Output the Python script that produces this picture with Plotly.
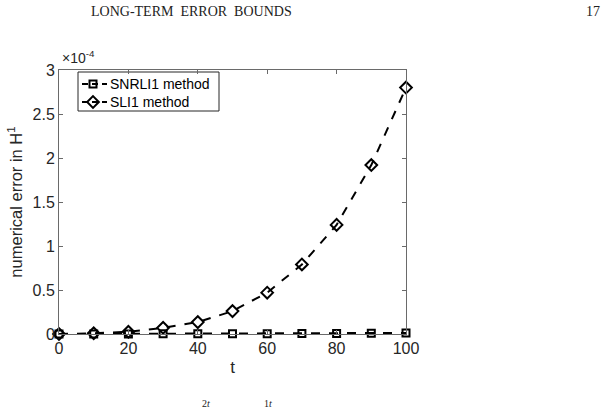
import plotly.graph_objects as go

t = [0, 10, 20, 30, 40, 50, 60, 70, 80, 90, 100]
snrli1 = [0.0, 0.0005, 0.001, 0.0015, 0.002, 0.003, 0.004, 0.005, 0.007, 0.009, 0.012]
sli1 = [0.0, 0.008, 0.025, 0.07, 0.135, 0.26, 0.47, 0.79, 1.24, 1.92, 2.80]
yticks = [0, 0.5, 1, 1.5, 2, 2.5, 3]
xticks = [0, 20, 40, 60, 80, 100]
series_names = ["SNRLI1 method", "SLI1 method"]

W, H = 614, 408
L, R, T, B = 59, 406, 70, 334

def px(xp):
    return (xp - L) / (R - L)

def py(yp):
    return (B - yp) / (B - T)

AX = "#6a6a6a"
TXT = "#262626"
SANS = "Liberation Sans, Arial"
SERIF = "Liberation Serif, DejaVu Serif, serif"

sq = dict(symbol="square-open", size=7, color="black", line=dict(width=2))
dm = dict(symbol="diamond-open", size=9, color="black", line=dict(width=2))
ln = dict(color="black", width=2, dash="dash")

fig = go.Figure()
fig.add_trace(go.Scatter(x=t, y=snrli1, name=series_names[0], mode="lines+markers",
                         line=ln, marker=sq, showlegend=False, cliponaxis=False))
fig.add_trace(go.Scatter(x=t, y=sli1, name=series_names[1], mode="lines+markers",
                         line=ln, marker=dm, showlegend=False, cliponaxis=False))

# manual legend (MATLAB style) on a pixel-coordinate overlay axis
leg_rows = [84, 102]
for name, mk, yrow in zip(series_names, [sq, dm], leg_rows):
    fig.add_trace(go.Scatter(x=[82, 107], y=[yrow, yrow], mode="lines",
                             line=dict(color="black", width=2, dash="6px,4px"),
                             xaxis="x2", yaxis="y2", showlegend=False, hoverinfo="skip"))
    fig.add_trace(go.Scatter(x=[93], y=[yrow], mode="markers", marker=mk,
                             xaxis="x2", yaxis="y2", showlegend=False, hoverinfo="skip"))

axis_common = dict(
    showgrid=False, zeroline=False, showline=True, linecolor=AX, linewidth=1,
    mirror="ticks", ticks="inside", ticklen=4, tickcolor=AX,
    tickfont=dict(family=SANS, size=16, color=TXT),
)
fig.update_xaxes(range=[0, 100], tickvals=xticks, ticktext=[str(v) for v in xticks],
                 title=dict(text="t", font=dict(family=SANS, size=17, color=TXT), standoff=4),
                 **axis_common)
fig.update_yaxes(range=[0, 3], tickvals=yticks, ticktext=[("%g" % v) for v in yticks],
                 title=dict(text="numerical error in H<sup>1</sup>", font=dict(family=SANS, size=16.5, color=TXT), standoff=5),
                 **axis_common)

fig.update_layout(
    width=W, height=H,
    margin=dict(l=L, r=W - R, t=T, b=H - B),
    plot_bgcolor="white", paper_bgcolor="white",
    showlegend=False,
    xaxis2=dict(overlaying="x", range=[L, R], visible=False, fixedrange=True),
    yaxis2=dict(overlaying="y", range=[B, T], visible=False, fixedrange=True),
    shapes=[
        dict(type="rect", xref="paper", yref="paper", x0=px(78), x1=px(219), y0=py(72), y1=py(111),
             line=dict(color=TXT, width=1), fillcolor="white", layer="below"),
    ],
    annotations=[
        dict(text=series_names[0], xref="paper", yref="paper", x=px(108), y=py(leg_rows[0]),
             xanchor="left", yanchor="middle", showarrow=False,
             font=dict(family=SANS, size=14, color="black")),
        dict(text=series_names[1], xref="paper", yref="paper", x=px(108), y=py(leg_rows[1]),
             xanchor="left", yanchor="middle", showarrow=False,
             font=dict(family=SANS, size=14, color="black")),
        dict(text="×10<sup>-4</sup>", xref="paper", yref="paper",
             x=px(60), y=py(68), xanchor="left", yanchor="bottom",
             showarrow=False, font=dict(family=SANS, size=14, color=TXT)),
        dict(text="LONG-TERM  ERROR  BOUNDS", xref="paper", yref="paper",
             x=px(89), y=py(12), xanchor="left", yanchor="middle",
             showarrow=False, font=dict(family=SERIF, size=14, color="#222222")),
        dict(text="17", xref="paper", yref="paper",
             x=px(602), y=py(12), xanchor="right", yanchor="middle",
             showarrow=False, font=dict(family=SERIF, size=14, color="#222222")),
        dict(text="2<i>t</i>", xref="paper", yref="paper",
             x=px(206), y=py(396), xanchor="center", yanchor="top",
             showarrow=False, font=dict(family=SERIF, size=10, color="#222222")),
        dict(text="1<i>t</i>", xref="paper", yref="paper",
             x=px(268), y=py(396), xanchor="center", yanchor="top",
             showarrow=False, font=dict(family=SERIF, size=10, color="#222222")),
    ],
)

fig.write_html("out.html")
